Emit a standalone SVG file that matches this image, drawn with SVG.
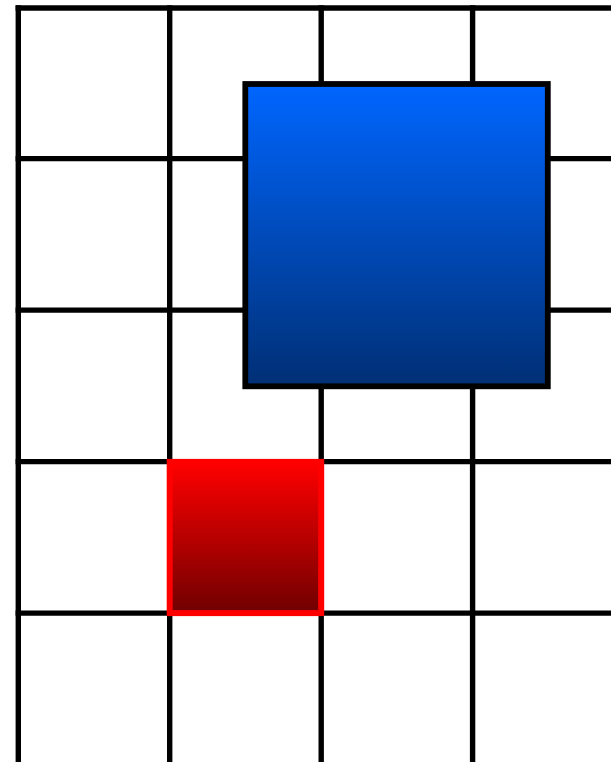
<svg xmlns="http://www.w3.org/2000/svg" width="611" height="762" viewBox="0 0 611 762">
<defs>
<linearGradient id="gBlue" x1="0" y1="0" x2="0" y2="1">
<stop offset="0" stop-color="#0066ff"/>
<stop offset="1" stop-color="#002f75"/>
</linearGradient>
<linearGradient id="gRed" x1="0" y1="0" x2="0" y2="1">
<stop offset="0" stop-color="#ff0000"/>
<stop offset="1" stop-color="#700000"/>
</linearGradient>
<style>
.grid line{stroke:#000;stroke-width:5.4;stroke-linecap:square}
</style>
</defs>
<rect width="611" height="762" fill="#fff"/>
<g id="grid" class="grid">
<line x1="18.3" y1="8" x2="18.3" y2="770"/>
<line x1="169.7" y1="8" x2="169.7" y2="770"/>
<line x1="321.2" y1="8" x2="321.2" y2="770"/>
<line x1="472.6" y1="8" x2="472.6" y2="770"/>
<line x1="18.3" y1="8" x2="620" y2="8"/>
<line x1="18.3" y1="158.6" x2="620" y2="158.6"/>
<line x1="18.3" y1="310.1" x2="620" y2="310.1"/>
<line x1="18.3" y1="461.6" x2="620" y2="461.6"/>
<line x1="18.3" y1="613.1" x2="620" y2="613.1"/>
<line x1="18.3" y1="764.6" x2="620" y2="764.6"/>
</g>
<g id="blue-square">
<rect x="245.3" y="84" width="302.5" height="302.3" fill="url(#gBlue)" stroke="#000" stroke-width="5.8"/>
</g>
<g id="red-square">
<rect x="169.7" y="461.9" width="151.5" height="151.2" fill="url(#gRed)" stroke="#ff0000" stroke-width="6"/>
</g>
</svg>
